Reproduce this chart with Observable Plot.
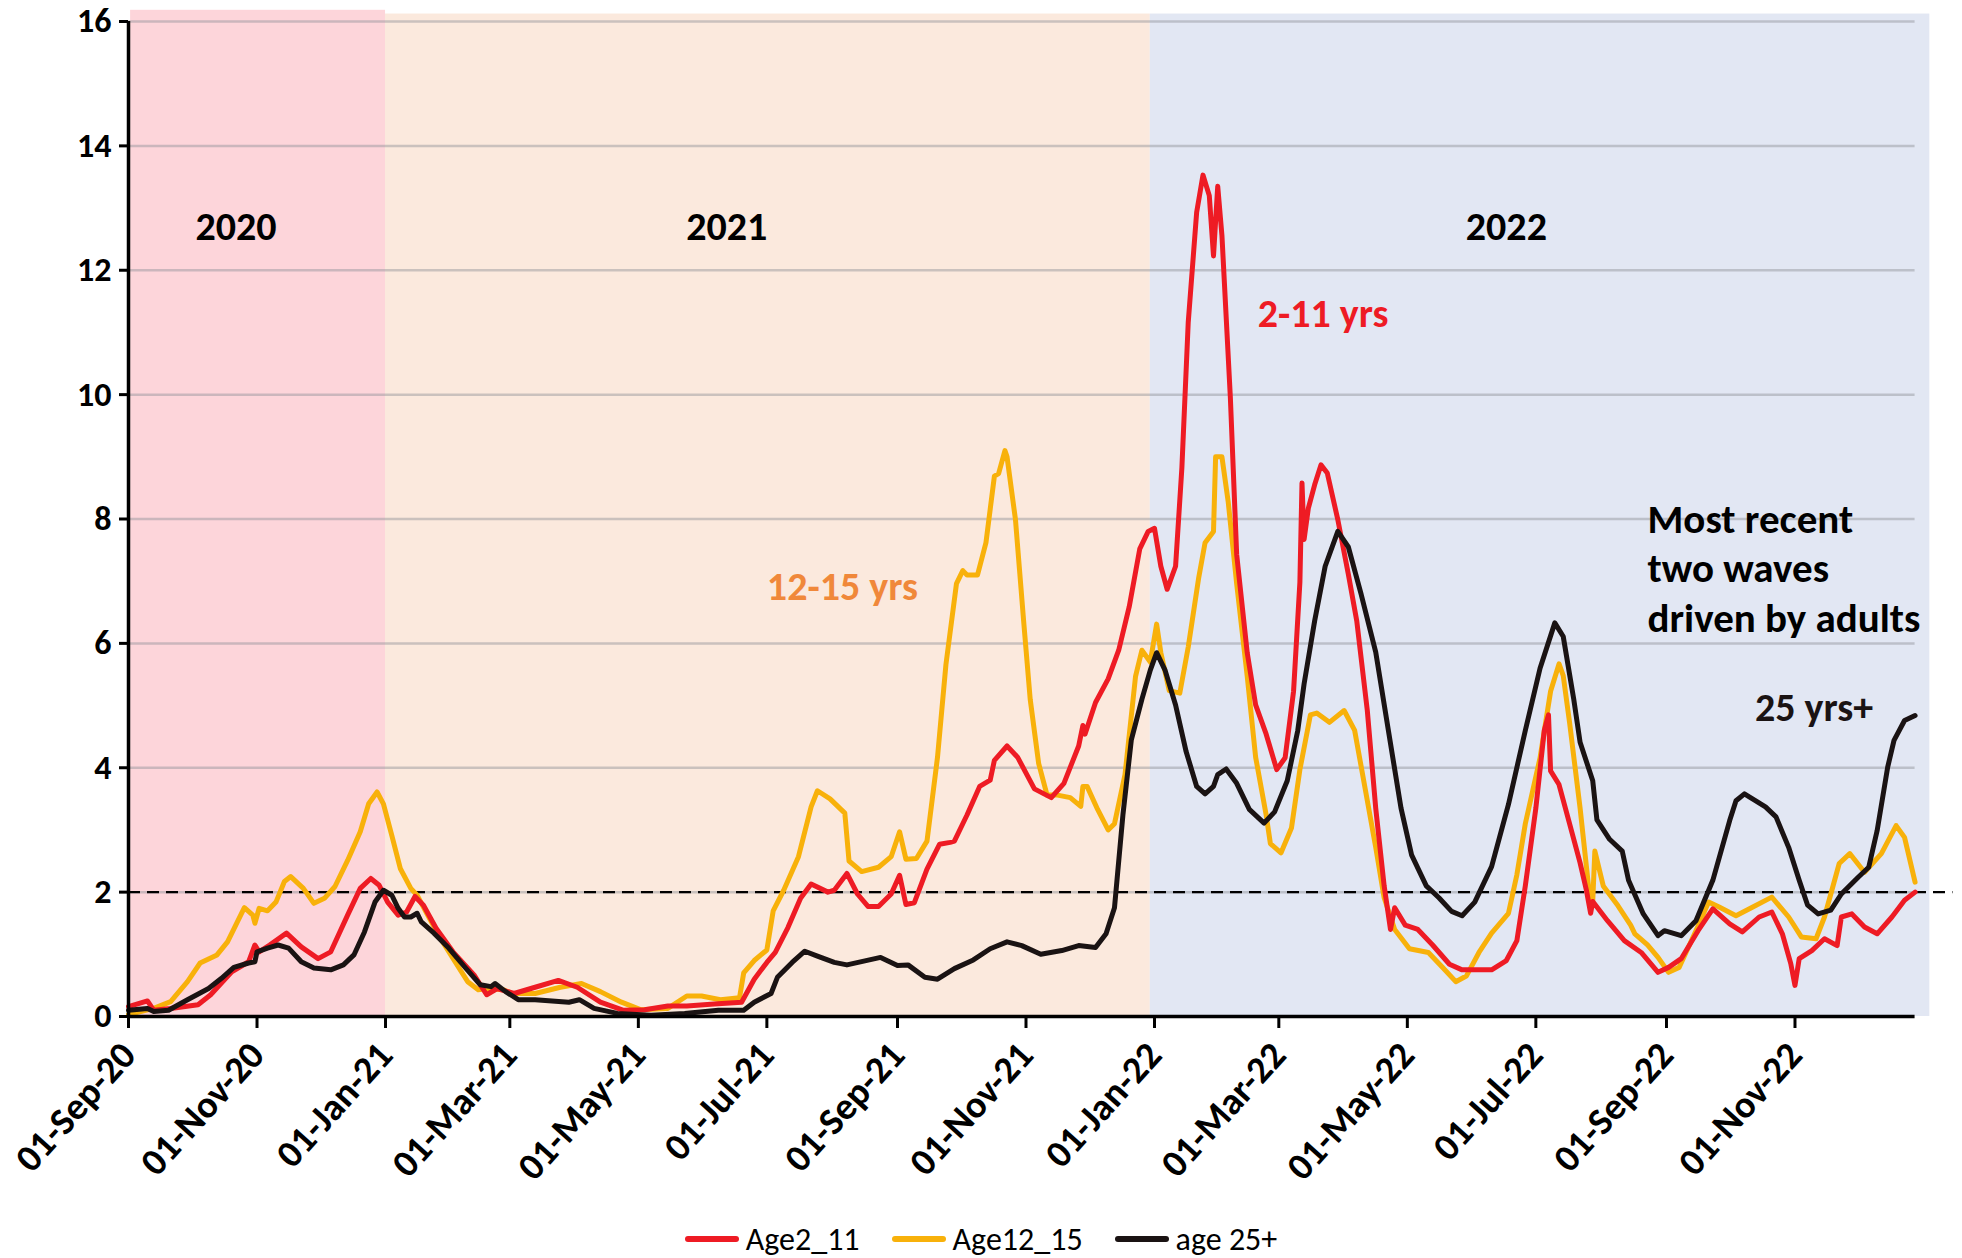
<!DOCTYPE html>
<html><head><meta charset="utf-8">
<script src="https://cdn.jsdelivr.net/npm/d3@7"></script>
<script src="https://cdn.jsdelivr.net/npm/@observablehq/plot@0.6"></script>
<style>
html,body{margin:0;padding:0;background:#fff;}
body{width:1962px;height:1258px;overflow:hidden;font-family:Carlito,Lato,sans-serif;}
#legend{display:flex;justify-content:center;align-items:center;height:40px;margin-top:14px;font-size:32px;color:#000;}
.item{display:flex;align-items:center;margin:0 16px;}
.sw{width:54px;height:6px;border-radius:3px;margin-right:7px;}
</style></head><body><div id="chart"></div><div id="legend"></div>
<script>
// ---------- data ----------
const age2_11 = [
["2020-09-01",0.16],["2020-09-10",0.25],["2020-09-13",0.10],["2020-09-21",0.13],["2020-10-04",0.19],["2020-10-10",0.35],["2020-10-20",0.72],["2020-10-28",0.88],["2020-10-31",1.15],["2020-11-02",1.04],["2020-11-07",1.15],["2020-11-15",1.34],["2020-11-22",1.12],["2020-11-30",0.93],["2020-12-06",1.04],["2020-12-14",1.63],["2020-12-20",2.06],["2020-12-25",2.22],["2020-12-29",2.11],["2021-01-02",1.84],["2021-01-07",1.63],["2021-01-11",1.68],["2021-01-15",1.93],["2021-01-19",1.79],["2021-01-25",1.42],["2021-02-02",1.04],["2021-02-12",0.67],["2021-02-18",0.35],["2021-02-23",0.45],["2021-03-03",0.37],["2021-03-13",0.47],["2021-03-24",0.58],["2021-04-02",0.47],["2021-04-13",0.23],["2021-04-24",0.10],["2021-05-04",0.11],["2021-05-15",0.17],["2021-05-24",0.17],["2021-06-06",0.20],["2021-06-19",0.23],["2021-06-25",0.60],["2021-07-01",0.87],["2021-07-05",1.03],["2021-07-11",1.43],["2021-07-17",1.90],["2021-07-22",2.13],["2021-07-30",2.00],["2021-08-02",2.03],["2021-08-08",2.30],["2021-08-13",1.97],["2021-08-18",1.77],["2021-08-23",1.77],["2021-08-29",1.97],["2021-09-02",2.27],["2021-09-05",1.80],["2021-09-09",1.83],["2021-09-15",2.37],["2021-09-21",2.77],["2021-09-26",2.80],["2021-09-28",2.82],["2021-10-04",3.24],["2021-10-10",3.70],["2021-10-15",3.80],["2021-10-17",4.12],["2021-10-23",4.35],["2021-10-28",4.17],["2021-11-05",3.66],["2021-11-13",3.52],["2021-11-19",3.75],["2021-11-26",4.35],["2021-11-28",4.68],["2021-11-29",4.54],["2021-12-04",5.05],["2021-12-10",5.43],["2021-12-15",5.89],["2021-12-20",6.59],["2021-12-25",7.52],["2021-12-29",7.80],["2022-01-01",7.85],["2022-01-04",7.24],["2022-01-07",6.87],["2022-01-11",7.24],["2022-01-14",8.83],["2022-01-17",11.16],["2022-01-21",12.93],["2022-01-24",13.53],["2022-01-27",13.20],["2022-01-29",12.23],["2022-01-31",13.35],["2022-02-02",12.56],["2022-02-06",9.95],["2022-02-09",7.43],["2022-02-14",5.85],["2022-02-18",5.01],["2022-02-23",4.54],["2022-02-28",3.97],["2022-03-04",4.16],["2022-03-08",5.23],["2022-03-11",6.98],["2022-03-12",8.58],["2022-03-13",7.67],["2022-03-15",8.17],["2022-03-18",8.55],["2022-03-21",8.87],["2022-03-24",8.74],["2022-03-29",7.99],["2022-04-03",7.11],["2022-04-07",6.36],["2022-04-12",4.92],["2022-04-16",3.35],["2022-04-20",2.10],["2022-04-23",1.40],["2022-04-25",1.75],["2022-04-30",1.47],["2022-05-06",1.40],["2022-05-13",1.15],["2022-05-21",0.84],["2022-05-27",0.75],["2022-06-04",0.75],["2022-06-10",0.75],["2022-06-17",0.90],["2022-06-22",1.22],["2022-06-26",2.10],["2022-07-01",3.35],["2022-07-05",4.60],["2022-07-07",4.85],["2022-07-08",3.95],["2022-07-12",3.73],["2022-07-17",3.10],["2022-07-22",2.47],["2022-07-25",2.03],["2022-07-27",1.66],["2022-07-28",1.85],["2022-08-04",1.54],["2022-08-12",1.22],["2022-08-20",1.03],["2022-08-28",0.71],["2022-09-02",0.79],["2022-09-08",0.93],["2022-09-16",1.38],["2022-09-23",1.73],["2022-10-01",1.49],["2022-10-07",1.36],["2022-10-15",1.60],["2022-10-21",1.68],["2022-10-26",1.33],["2022-10-30",0.85],["2022-11-01",0.50],["2022-11-03",0.93],["2022-11-09",1.06],["2022-11-15",1.25],["2022-11-21",1.14],["2022-11-23",1.60],["2022-11-28",1.65],["2022-12-04",1.44],["2022-12-10",1.33],["2022-12-17",1.60],["2022-12-23",1.87],["2022-12-28",2.00]
];
const age12_15 = [
["2020-09-01",0.03],["2020-09-13",0.13],["2020-09-21",0.24],["2020-09-29",0.56],["2020-10-05",0.86],["2020-10-13",0.99],["2020-10-18",1.20],["2020-10-26",1.75],["2020-10-30",1.63],["2020-10-31",1.50],["2020-11-02",1.74],["2020-11-06",1.70],["2020-11-10",1.84],["2020-11-14",2.17],["2020-11-17",2.25],["2020-11-23",2.06],["2020-11-28",1.82],["2020-12-03",1.90],["2020-12-08",2.09],["2020-12-14",2.51],["2020-12-20",2.97],["2020-12-24",3.42],["2020-12-28",3.61],["2020-12-31",3.42],["2021-01-04",2.91],["2021-01-08",2.38],["2021-01-13",2.06],["2021-01-16",1.95],["2021-01-21",1.63],["2021-01-27",1.26],["2021-02-03",0.88],["2021-02-09",0.56],["2021-02-14",0.43],["2021-02-18",0.45],["2021-02-26",0.43],["2021-03-02",0.37],["2021-03-13",0.37],["2021-03-25",0.47],["2021-04-04",0.53],["2021-04-13",0.40],["2021-04-23",0.23],["2021-05-02",0.11],["2021-05-15",0.13],["2021-05-24",0.33],["2021-05-31",0.33],["2021-06-09",0.27],["2021-06-18",0.30],["2021-06-20",0.70],["2021-06-25",0.90],["2021-07-01",1.07],["2021-07-04",1.70],["2021-07-09",2.03],["2021-07-16",2.57],["2021-07-22",3.37],["2021-07-25",3.63],["2021-07-31",3.50],["2021-08-07",3.27],["2021-08-09",2.50],["2021-08-15",2.33],["2021-08-23",2.40],["2021-08-29",2.57],["2021-09-02",2.97],["2021-09-05",2.53],["2021-09-10",2.54],["2021-09-15",2.82],["2021-09-20",4.17],["2021-09-24",5.66],["2021-09-29",6.96],["2021-10-02",7.17],["2021-10-04",7.10],["2021-10-09",7.10],["2021-10-13",7.62],["2021-10-17",8.69],["2021-10-19",8.73],["2021-10-22",9.10],["2021-10-23",9.00],["2021-10-27",7.99],["2021-10-31",6.31],["2021-11-03",5.10],["2021-11-07",4.07],["2021-11-11",3.56],["2021-11-16",3.56],["2021-11-22",3.52],["2021-11-27",3.38],["2021-11-28",3.70],["2021-11-30",3.70],["2021-12-05",3.33],["2021-12-10",3.00],["2021-12-13",3.10],["2021-12-18",3.89],["2021-12-23",5.47],["2021-12-26",5.89],["2021-12-30",5.70],["2022-01-02",6.31],["2022-01-04",5.85],["2022-01-08",5.24],["2022-01-13",5.20],["2022-01-17",5.94],["2022-01-22",7.06],["2022-01-25",7.62],["2022-01-29",7.80],["2022-01-30",9.00],["2022-02-02",9.00],["2022-02-05",8.27],["2022-02-09",6.96],["2022-02-14",5.47],["2022-02-18",4.17],["2022-02-23",3.24],["2022-02-25",2.78],["2022-03-02",2.63],["2022-03-07",3.03],["2022-03-11",3.97],["2022-03-16",4.85],["2022-03-19",4.88],["2022-03-25",4.73],["2022-04-01",4.92],["2022-04-06",4.60],["2022-04-11",3.66],["2022-04-16",2.72],["2022-04-20",1.91],["2022-04-25",1.40],["2022-05-02",1.09],["2022-05-11",1.03],["2022-05-18",0.78],["2022-05-24",0.56],["2022-05-29",0.65],["2022-06-04",1.03],["2022-06-10",1.34],["2022-06-18",1.66],["2022-06-22",2.28],["2022-06-26",3.10],["2022-07-03",4.16],["2022-07-08",5.23],["2022-07-12",5.67],["2022-07-14",5.48],["2022-07-17",4.73],["2022-07-22",3.35],["2022-07-26",2.10],["2022-07-28",1.85],["2022-07-29",2.66],["2022-08-02",2.10],["2022-08-09",1.78],["2022-08-15",1.47],["2022-08-17",1.33],["2022-08-23",1.15],["2022-08-28",0.95],["2022-09-02",0.71],["2022-09-07",0.79],["2022-09-15",1.38],["2022-09-21",1.84],["2022-09-26",1.76],["2022-10-04",1.62],["2022-10-12",1.76],["2022-10-21",1.92],["2022-10-29",1.60],["2022-11-04",1.28],["2022-11-11",1.25],["2022-11-15",1.60],["2022-11-22",2.46],["2022-11-27",2.62],["2022-12-04",2.32],["2022-12-12",2.62],["2022-12-19",3.07],["2022-12-23",2.88],["2022-12-28",2.16]
];
const age25plus = [
["2020-09-01",0.10],["2020-09-10",0.13],["2020-09-13",0.08],["2020-09-20",0.10],["2020-09-29",0.27],["2020-10-09",0.45],["2020-10-15",0.61],["2020-10-21",0.79],["2020-10-28",0.86],["2020-10-31",0.88],["2020-11-01",1.04],["2020-11-06",1.10],["2020-11-11",1.15],["2020-11-16",1.10],["2020-11-22",0.88],["2020-11-28",0.78],["2020-12-06",0.75],["2020-12-12",0.83],["2020-12-17",0.99],["2020-12-22",1.36],["2020-12-27",1.84],["2020-12-31",2.03],["2021-01-04",1.95],["2021-01-07",1.74],["2021-01-10",1.60],["2021-01-13",1.60],["2021-01-16",1.66],["2021-01-18",1.52],["2021-01-24",1.34],["2021-01-31",1.10],["2021-02-08",0.78],["2021-02-15",0.51],["2021-02-20",0.48],["2021-02-22",0.53],["2021-02-27",0.40],["2021-03-05",0.27],["2021-03-13",0.27],["2021-03-29",0.23],["2021-04-03",0.27],["2021-04-10",0.13],["2021-04-21",0.05],["2021-05-07",0.02],["2021-05-23",0.05],["2021-06-08",0.10],["2021-06-20",0.10],["2021-06-25",0.23],["2021-07-03",0.37],["2021-07-06",0.63],["2021-07-13",0.87],["2021-07-19",1.05],["2021-07-25",0.97],["2021-08-02",0.87],["2021-08-08",0.83],["2021-08-16",0.89],["2021-08-24",0.95],["2021-09-01",0.82],["2021-09-06",0.83],["2021-09-14",0.63],["2021-09-20",0.60],["2021-09-28",0.77],["2021-10-07",0.91],["2021-10-15",1.09],["2021-10-23",1.20],["2021-10-30",1.14],["2021-11-08",1.00],["2021-11-18",1.06],["2021-11-26",1.14],["2021-12-04",1.11],["2021-12-09",1.33],["2021-12-13",1.75],["2021-12-17",3.24],["2021-12-21",4.45],["2021-12-26",5.10],["2021-12-30",5.57],["2022-01-02",5.85],["2022-01-06",5.57],["2022-01-11",5.01],["2022-01-16",4.26],["2022-01-21",3.70],["2022-01-25",3.58],["2022-01-29",3.70],["2022-01-31",3.89],["2022-02-04",3.98],["2022-02-09",3.75],["2022-02-15",3.33],["2022-02-22",3.11],["2022-02-27",3.29],["2022-03-05",3.79],["2022-03-10",4.60],["2022-03-13",5.35],["2022-03-18",6.36],["2022-03-23",7.24],["2022-03-29",7.80],["2022-04-03",7.55],["2022-04-09",6.80],["2022-04-16",5.86],["2022-04-22",4.60],["2022-04-28",3.35],["2022-05-03",2.60],["2022-05-10",2.10],["2022-05-16",1.91],["2022-05-22",1.69],["2022-05-27",1.62],["2022-06-02",1.84],["2022-06-10",2.41],["2022-06-18",3.41],["2022-06-26",4.60],["2022-07-03",5.60],["2022-07-10",6.33],["2022-07-14",6.11],["2022-07-19",5.10],["2022-07-22",4.41],["2022-07-28",3.79],["2022-07-30",3.16],["2022-08-05",2.85],["2022-08-11",2.66],["2022-08-14",2.19],["2022-08-21",1.65],["2022-08-28",1.30],["2022-08-31",1.38],["2022-09-08",1.30],["2022-09-15",1.54],["2022-09-23",2.19],["2022-10-01",3.15],["2022-10-04",3.47],["2022-10-08",3.58],["2022-10-18",3.37],["2022-10-23",3.21],["2022-10-29",2.72],["2022-11-03",2.19],["2022-11-07",1.79],["2022-11-12",1.65],["2022-11-18",1.71],["2022-11-23",1.97],["2022-12-01",2.24],["2022-12-06",2.40],["2022-12-10",2.99],["2022-12-15",4.01],["2022-12-18",4.44],["2022-12-23",4.76],["2022-12-28",4.84]
];
const yearBands = [
  {label:"2020", from:"2020-09-02", to:"2021-01-01"},
  {label:"2021", from:"2021-01-01", to:"2021-12-30"},
  {label:"2022", from:"2021-12-30", to:"2023-01-04"}
];
const yearLabels = [
  {text:"2020", date:"2020-10-22", value:12.7},
  {text:"2021", date:"2021-06-12", value:12.7},
  {text:"2022", date:"2022-06-17", value:12.7}
];
const seriesLabels = [
  {text:"2-11 yrs", date:"2022-02-19", value:11.29, series:"Age2_11"},
  {text:"12-15 yrs", date:"2021-07-01", value:6.9, series:"label12"},
  {text:"25 yrs+", date:"2022-10-13", value:4.95, series:"age 25+"}
];
const noteLines = [
  {text:"Most recent", date:"2022-08-23", value:7.99},
  {text:"two waves", date:"2022-08-23", value:7.19},
  {text:"driven by adults", date:"2022-08-23", value:6.40}
];
const yTicks = [0,2,4,6,8,10,12,14,16];
const xTicks = ["2020-09-01","2020-11-01","2021-01-01","2021-03-01","2021-05-01","2021-07-01","2021-09-01","2021-11-01","2022-01-01","2022-03-01","2022-05-01","2022-07-01","2022-09-01","2022-11-01"];
const threshold = 2;
const seriesNames = ["Age2_11","Age12_15","age 25+"];

// ---------- styles ----------
const bandColor = {"2020":"#fdd5da","2021":"#fbe9dd","2022":"#e2e7f3"};
const lineColor = {"Age2_11":"#ee1b24","Age12_15":"#f8b10a","age 25+":"#1a1313","label12":"#f0883a"};
const FONT = "Carlito, Lato, sans-serif";

const parse = d3.utcParse("%Y-%m-%d");
const rows = arr => arr.map(([d,v]) => ({date:parse(d), value:v}));
const xStart = parse("2020-09-01"), xEnd = parse("2023-01-01");
const gridEnd = parse("2022-12-28"), dashEnd = parse("2023-01-15");

const chart = Plot.plot({
  width:1962, height:1205,
  marginLeft:128, marginRight:39, marginTop:21, marginBottom:189,
  x:{type:"utc", domain:[xStart,xEnd]},
  y:{domain:[0,16]},
  style:{fontFamily:FONT, background:"#fff", color:"#000", overflow:"visible"},
  marks:[
    Plot.rect(yearBands, {x1:d=>parse(d.from), x2:d=>parse(d.to), y1:0, y2:d=>d.label==="2020"?16.18:16.12, fill:d=>bandColor[d.label]}),
    Plot.ruleY(yTicks.filter(v=>v>0), {x1:()=>xStart, x2:()=>gridEnd, stroke:"#8e9096", strokeOpacity:0.45, strokeWidth:2.5}),
    Plot.ruleY([threshold], {x1:()=>xStart, x2:()=>dashEnd, stroke:"#000", strokeWidth:2.3, strokeDasharray:"12,7"}),
    Plot.line(rows(age12_15), {x:"date", y:"value", stroke:lineColor["Age12_15"], strokeWidth:5, strokeLinejoin:"round", strokeLinecap:"round"}),
    Plot.line(rows(age2_11), {x:"date", y:"value", stroke:lineColor["Age2_11"], strokeWidth:5, strokeLinejoin:"round", strokeLinecap:"round"}),
    Plot.line(rows(age25plus), {x:"date", y:"value", stroke:lineColor["age 25+"], strokeWidth:5, strokeLinejoin:"round", strokeLinecap:"round"}),
    Plot.ruleX([xStart], {y1:0, y2:16, stroke:"#000", strokeWidth:3.5}),
    Plot.ruleY([0], {x1:()=>xStart, x2:()=>gridEnd, stroke:"#000", strokeWidth:3.5}),
    Plot.axisY(yTicks, {tickSize:9, tickPadding:8, fontSize:34, fontWeight:"bold", strokeWidth:3, tickFormat:d=>String(d), label:null}),
    Plot.axisX(xTicks.map(parse), {tickSize:12, tickPadding:20, tickRotate:-48, fontSize:38, fontWeight:"bold", strokeWidth:3, tickFormat:d3.utcFormat("%d-%b-%y"), label:null}),
    Plot.text(yearLabels, {x:d=>parse(d.date), y:"value", text:"text", fontSize:40, fontWeight:"bold", fill:"#000"}),
    Plot.text(seriesLabels, {x:d=>parse(d.date), y:"value", text:"text", textAnchor:"start", fontSize:40, fontWeight:"bold", fill:d=>lineColor[d.series]}),
    Plot.text(noteLines, {x:d=>parse(d.date), y:"value", text:"text", textAnchor:"start", fontSize:41, fontWeight:"bold", fill:"#000"})
  ]
});
document.getElementById("chart").appendChild(chart);

const legend = document.getElementById("legend");
for (const name of seriesNames) {
  const item = document.createElement("div"); item.className = "item";
  const sw = document.createElement("span"); sw.className = "sw"; sw.style.background = lineColor[name];
  const tx = document.createElement("span"); tx.textContent = name;
  item.appendChild(sw); item.appendChild(tx); legend.appendChild(item);
}
</script></body></html>
